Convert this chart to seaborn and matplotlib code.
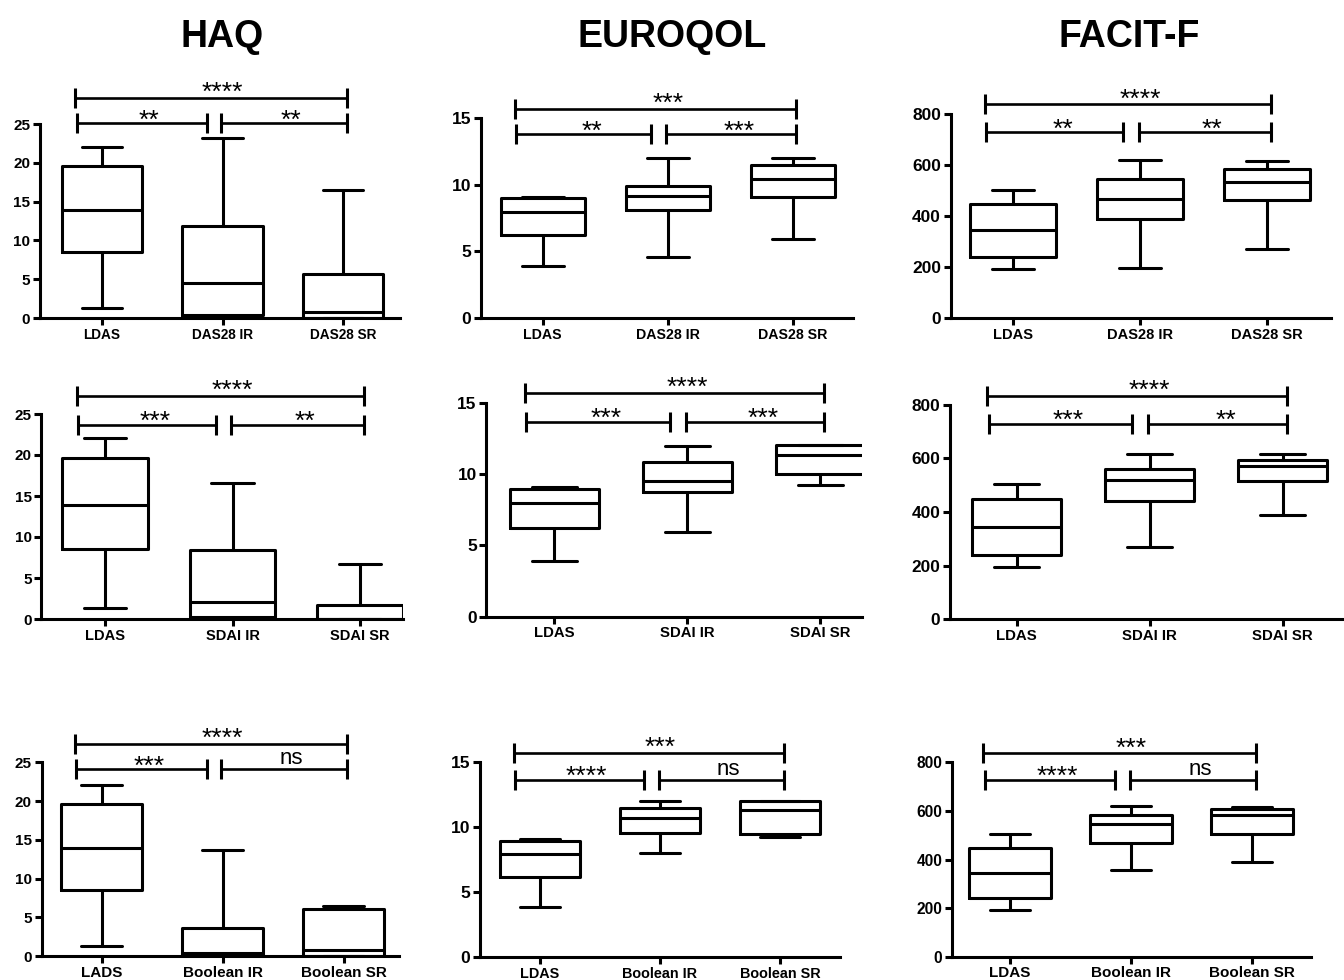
import matplotlib
matplotlib.use("Agg")
import matplotlib.pyplot as plt
import pandas as pd
import seaborn as sns

sns.set_theme(style="ticks")
plt.rcParams["font.family"] = ["Liberation Sans", "DejaVu Sans"]

W, H = 1344, 980

measures = ["HAQ", "EUROQOL", "FACIT-F"]

# group labels for each row and column
labels_haq = [["LDAS", "DAS28 IR", "DAS28 SR"],
              ["LDAS", "SDAI IR", "SDAI SR"],
              ["LADS", "Boolean IR", "Boolean SR"]]
labels_other = [["LDAS", "DAS28 IR", "DAS28 SR"],
                ["LDAS", "SDAI IR", "SDAI SR"],
                ["LDAS", "Boolean IR", "Boolean SR"]]

# five-number summaries: min, Q1, median, Q3, max
haq_ldas = [1.3, 8.5, 13.9, 19.6, 22.1]
haq_das28_ir = [0.0, 0.45, 4.5, 11.9, 23.2]
haq_das28_sr = [0.0, 0.0, 0.75, 5.65, 16.5]
haq_sdai_ir = [0.0, 0.3, 2.05, 8.45, 16.6]
haq_sdai_sr = [0.0, 0.0, 0.0, 1.65, 6.75]
haq_bool_ir = [0.0, 0.15, 0.4, 3.55, 13.7]
haq_bool_sr = [0.0, 0.0, 0.8, 6.05, 6.5]

eq_ldas = [3.9, 6.2, 7.95, 8.98, 9.1]
eq_das28_ir = [4.55, 8.1, 9.17, 9.9, 12.0]
eq_das28_sr = [5.95, 9.05, 10.45, 11.5, 12.0]
eq_sdai_ir = [5.95, 8.75, 9.5, 10.85, 12.0]
eq_sdai_sr = [9.2, 10.0, 11.3, 12.03, 12.03]
eq_bool_ir = [8.03, 9.6, 10.72, 11.5, 12.02]
eq_bool_sr = [9.22, 9.5, 11.33, 12.0, 12.02]

fa_ldas = [193, 240, 345, 447, 503]
fa_das28_ir = [198, 388, 469, 546, 621]
fa_das28_sr = [271, 465, 536, 584, 618]
fa_sdai_ir = [268, 442, 521, 561, 618]
fa_sdai_sr = [387, 515, 572, 594, 617]
fa_bool_ir = [358, 468, 546, 583, 620]
fa_bool_sr = [388, 506, 583, 606, 617]

summaries = {
    "HAQ": [[haq_ldas, haq_das28_ir, haq_das28_sr],
            [haq_ldas, haq_sdai_ir, haq_sdai_sr],
            [haq_ldas, haq_bool_ir, haq_bool_sr]],
    "EUROQOL": [[eq_ldas, eq_das28_ir, eq_das28_sr],
                [eq_ldas, eq_sdai_ir, eq_sdai_sr],
                [eq_ldas, eq_bool_ir, eq_bool_sr]],
    "FACIT-F": [[fa_ldas, fa_das28_ir, fa_das28_sr],
                [fa_ldas, fa_sdai_ir, fa_sdai_sr],
                [fa_ldas, fa_bool_ir, fa_bool_sr]],
}

# significance: (group1 vs group2, group2 vs group3, group1 vs group3)
signif = {
    "HAQ": [("**", "**", "****"), ("***", "**", "****"), ("***", "ns", "****")],
    "EUROQOL": [("**", "***", "***"), ("***", "***", "****"), ("****", "ns", "***")],
    "FACIT-F": [("**", "**", "****"), ("***", "**", "****"), ("****", "ns", "***")],
}

y_ticks = {"HAQ": [0, 5, 10, 15, 20, 25],
           "EUROQOL": [0, 5, 10, 15],
           "FACIT-F": [0, 200, 400, 600, 800]}

# bracket heights (lower pair, upper span) in data units
bracket_levels = {
    "HAQ": [(25.1, 28.35), (23.7, 27.2), (24.1, 27.4)],
    "EUROQOL": [(13.76, 15.63), (13.67, 15.7), (13.64, 15.7)],
    "FACIT-F": [(729, 839), (729, 834), (727, 837)],
}

# panel geometry in pixels: first category x, category spacing, xlim, bottom, top
geometry = {
    "HAQ": [(102, 120.5, -0.515, 2.47, 318, 124),
            (105, 127.5, -0.5, 2.34, 619, 414),
            (101.7, 121, -0.496, 2.46, 956, 762.3)],
    "EUROQOL": [(542.7, 125, -0.494, 2.48, 318.3, 117.7),
                (554.3, 133, -0.51, 2.31, 616.7, 402.7),
                (540, 120, -0.5, 2.5, 957.3, 762.3)],
    "FACIT-F": [(1013, 127, -0.49, 2.5, 318.3, 114.3),
                (1016.7, 133, -0.5, 2.46, 619, 405),
                (1010, 121, -0.48, 2.49, 956.7, 762.3)],
}

# tick label sizes per panel (x labels, y labels)
label_sizes = {
    "HAQ": [(9.8, 11), (10.5, 11), (11, 11)],
    "EUROQOL": [(10.2, 12.6), (10.7, 12.4), (10.4, 12.6)],
    "FACIT-F": [(10.5, 12.5), (10.8, 12.4), (11, 11.2)],
}

title_x = {"HAQ": 222, "EUROQOL": 672, "FACIT-F": 1129}

LW = 2.2
fig = plt.figure(figsize=(W / 100, H / 100), dpi=100)
fig.patch.set_facecolor("white")

for m in measures:
    fig.text(title_x[m] / W, 1 - 47 / H, m, ha="center", va="baseline",
             fontsize=27, fontweight="bold", color="black")
    for r in range(3):
        x0, sp, xlo, xhi, ybot, ytop = geometry[m][r]
        rect = [(x0 + xlo * sp) / W, 1 - ybot / H,
                (xhi - xlo) * sp / W, (ybot - ytop) / H]
        ax = fig.add_axes(rect)
        groups = (labels_haq if m == "HAQ" else labels_other)[r]
        rows = []
        for g, vals in zip(groups, summaries[m][r]):
            for v in vals:
                rows.append({"group": g, "value": v})
        df = pd.DataFrame(rows)
        sns.boxplot(data=df, x="group", y="value", order=groups,
                    whis=(0, 100), width=0.67, fill=False, color="black",
                    linewidth=LW, showfliers=False, ax=ax)
        ax.set_xlim(xlo, xhi)
        ticks = y_ticks[m]
        ax.set_ylim(ticks[0], ticks[-1])
        ax.set_yticks(ticks)
        ax.set_xlabel("")
        ax.set_ylabel("")
        ax.set_facecolor("white")
        sns.despine(ax=ax)
        for s in ("left", "bottom"):
            ax.spines[s].set_linewidth(LW)
            ax.spines[s].set_color("black")
        xs, ys = label_sizes[m][r]
        ax.tick_params(axis="both", width=LW, length=5, color="black",
                       labelcolor="black", pad=2)
        ax.tick_params(axis="x", labelsize=xs)
        ax.tick_params(axis="y", labelsize=ys)
        for lab in ax.get_xticklabels() + ax.get_yticklabels():
            lab.set_fontweight("bold")

        # significance brackets
        low, high = bracket_levels[m][r]
        s12, s23, s13 = signif[m][r]
        spans = [((-0.21, 0.87), low, 0.39, s12, False),
                 ((0.99, 2.03), low, 1.57, s23, False),
                 ((-0.22, 2.03), high, 1.0, s13, True)]
        for (xa, xb), yl, xt, txt, is_top in spans:
            ax.plot([xa, xb], [yl, yl], color="black", lw=1.9,
                    marker="|", markersize=14, mew=2.2,
                    solid_capstyle="butt", clip_on=False)
            if txt == "ns":
                ax.annotate(txt, (xt, yl), xytext=(0, 3.5),
                            textcoords="offset points", ha="center",
                            va="baseline", fontsize=16, color="black",
                            annotation_clip=False)
            else:
                dy = -1.5 if is_top else -3.0
                ax.annotate(txt, (xt, yl), xytext=(0, dy),
                            textcoords="offset points", ha="center",
                            va="baseline", fontsize=19, color="black",
                            annotation_clip=False)

fig.savefig("out.png", dpi=100, facecolor="white")
